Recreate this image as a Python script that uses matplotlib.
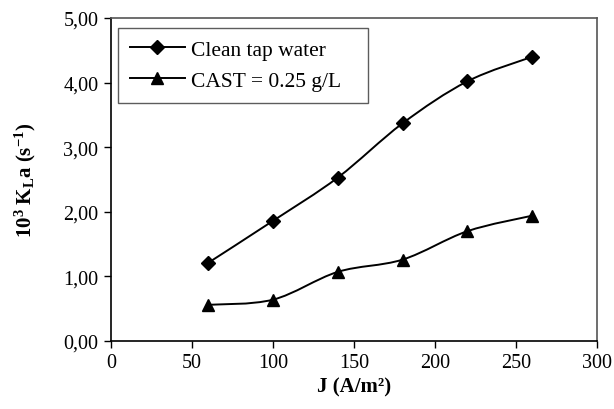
import matplotlib
matplotlib.use("Agg")
import matplotlib.pyplot as plt
import numpy as np
from matplotlib.path import Path
from matplotlib.patches import PathPatch
from matplotlib.ticker import FuncFormatter
from matplotlib.lines import Line2D

plt.rcParams['font.family'] = ['Liberation Serif', 'DejaVu Serif']
plt.rcParams['mathtext.fontset'] = 'custom'
plt.rcParams['mathtext.rm'] = 'Liberation Serif'
plt.rcParams['mathtext.bf'] = 'Liberation Serif:bold'
plt.rcParams['mathtext.it'] = 'Liberation Serif:italic'

# current density (A/m2)
current = [60, 100, 140, 180, 220, 260]
# 10^3 KLa (1/s)
kla_tap = [1.21, 1.86, 2.53, 3.37, 4.02, 4.40]
kla_cast = [0.56, 0.64, 1.07, 1.26, 1.70, 1.94]
series_names = ['Clean tap water', 'CAST = 0.25 g/L']


def smooth_path(xs, ys):
    # excel-style smoothed line: cubic bezier segments through the points
    pts = np.column_stack([xs, ys]).astype(float)
    n = len(pts)
    verts = [pts[0]]
    codes = [Path.MOVETO]
    for i in range(n - 1):
        p0 = pts[i - 1] if i > 0 else pts[i]
        p1 = pts[i]
        p2 = pts[i + 1]
        p3 = pts[i + 2] if i + 2 < n else pts[i + 1]
        c1 = p1 + (p2 - p0) / 6.0
        c2 = p2 - (p3 - p1) / 6.0
        verts += [c1, c2, p2]
        codes += [Path.CURVE4] * 3
    return Path(verts, codes)


fig = plt.figure(figsize=(6.14, 4.10), dpi=100)
ax = fig.add_axes([111 / 614, 1 - 342 / 410, 486 / 614, 323 / 410])

markers = ['D', '^']
sizes = [7.5, 9]
handles = []
for ys, m, s, name in zip([kla_tap, kla_cast], markers, sizes, series_names):
    ax.add_patch(PathPatch(smooth_path(current, ys), facecolor='none',
                           edgecolor='black', lw=1.4, zorder=2))
    ax.plot(current, ys, linestyle='none', marker=m, markersize=s,
            color='black', zorder=3)
    # trailing spaces widen the legend box on the right like the original
    handles.append(Line2D([], [], color='black', lw=1.4, marker=m,
                          markersize=s, label=name + '   '))

ax.set_xlim(0, 300)
ax.set_ylim(0, 5)
ax.set_xticks(np.arange(0, 301, 50))
ax.set_yticks(np.arange(0, 5.01, 1))
ax.yaxis.set_major_formatter(FuncFormatter(lambda v, p: f"{v:.2f}".replace('.', ',')))
ax.tick_params(direction='out', length=5, width=1, labelsize=14.5, colors='black', pad=4)
for sp in ax.spines.values():
    sp.set_linewidth(1.2)
ax.spines['top'].set_color('#555555')
ax.spines['right'].set_color('#555555')

ax.set_xlabel('J (A/m²)', fontsize=15, fontweight='bold', labelpad=3)
ax.set_ylabel(r'$\mathbf{10^3\ K_L a\ (s^{-1})}$', fontsize=15, labelpad=18)

leg = ax.legend(handles=handles, loc='upper left', bbox_to_anchor=(0.014, 0.969),
                fontsize=15.5, frameon=True, fancybox=False, handlelength=2.55,
                handletextpad=0.3, borderpad=0.55, labelspacing=0.5,
                borderaxespad=0)
leg.get_frame().set_edgecolor('#333333')
leg.get_frame().set_linewidth(1.0)

fig.savefig('out.png', dpi=100)
